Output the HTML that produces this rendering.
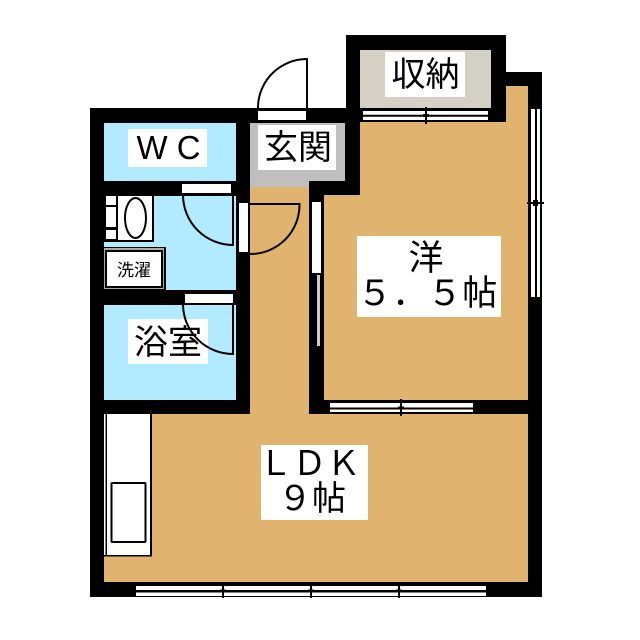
<!DOCTYPE html>
<html><head><meta charset="utf-8"><style>
html,body{margin:0;padding:0;background:#fff}
svg{display:block}
text{font-family:"Liberation Sans","Noto Sans CJK JP",sans-serif;fill:#000}
</style></head><body>
<svg width="640" height="640" viewBox="0 0 640 640" xmlns="http://www.w3.org/2000/svg">
<!-- black massing -->
<path d="M346 35H506V72H542V597H90V108H346Z" fill="#000"/>
<!-- rooms -->
<rect x="104" y="123" width="132" height="58" fill="#b2ebff"/>
<rect x="104" y="196" width="132" height="94" fill="#b2ebff"/>
<rect x="104" y="305" width="132" height="95" fill="#b2ebff"/>
<path d="M250 123H345V181H309V187H250Z" fill="#bfbfbf"/>
<rect x="360" y="50" width="131" height="58" fill="#d4d0c4"/>
<path d="M360 122H506V86H528V400H324V195H360Z" fill="#e0b46e"/>
<path d="M250 187H309V414H528V582H104V414H250Z" fill="#e0b46e"/>
<!-- entrance door -->
<rect x="258" y="111" width="48" height="9" fill="#fff"/>
<path d="M258 108V106A49 49 0 0 1 307 59V108" fill="#fff" stroke="#000" stroke-width="2"/>
<!-- storage window -->
<rect x="363" y="111" width="125" height="9" fill="#fff"/>
<path d="M363 115.700H488" stroke="#000" stroke-width="2"/>
<path d="M426 107V124" stroke="#000" stroke-width="2"/>
<path d="M423 115.500H429" stroke="#000" stroke-width="3"/>
<!-- right window -->
<rect x="531" y="109" width="9" height="188" fill="#fff"/>
<path d="M536 109V297" stroke="#000" stroke-width="2"/>
<path d="M527 203H544M534 200V206M537 200V206" stroke="#000" stroke-width="2"/>
<!-- WC door -->
<rect x="182" y="184" width="49" height="9" fill="#fff"/>
<path d="M183 195A50 50 0 0 0 233 245V195" fill="none" stroke="#000" stroke-width="2"/>
<!-- bath door -->
<rect x="185" y="294" width="48" height="9" fill="#fff"/>
<!-- corridor door -->
<rect x="239" y="203" width="9" height="49" fill="#fff"/>
<path d="M250 204H299.500A49 49 0 0 1 250 254" fill="none" stroke="#000" stroke-width="2"/>
<!-- room door/sliding -->
<rect x="312" y="202" width="9" height="71" fill="#fff"/>
<rect x="317" y="275" width="3" height="71" fill="#ccc"/>
<!-- room bottom window -->
<rect x="330" y="403" width="143" height="9" fill="#fff"/>
<path d="M330 408.500H473" stroke="#000" stroke-width="2"/>
<path d="M401 399V416" stroke="#000" stroke-width="2"/>
<path d="M398 408H404" stroke="#000" stroke-width="3"/>
<!-- LDK bottom window -->
<rect x="136" y="586" width="350" height="10" fill="#fff"/>
<path d="M136 591.300H486" stroke="#000" stroke-width="2.500"/>
<path d="M223 582V598M311 582V598M399 582V598" stroke="#000" stroke-width="2"/>
<path d="M220 591H226M308 591H314M396 591H402" stroke="#000" stroke-width="3"/>
<!-- basin -->
<rect x="104" y="196" width="50" height="46" fill="#000"/>
<rect x="106" y="196" width="10" height="9" fill="#fff"/>
<rect x="106" y="207" width="10" height="20" fill="#fff"/>
<rect x="106" y="230" width="10" height="9" fill="#fff"/>
<rect x="118" y="196" width="34" height="44" fill="#fff"/>
<ellipse cx="135.500" cy="218" rx="10.500" ry="20" fill="none" stroke="#000" stroke-width="2"/>
<!-- washer -->
<rect x="103" y="247" width="63" height="43" fill="#000"/>
<rect x="104" y="248" width="60" height="41" fill="#aaa"/>
<rect x="105" y="250" width="58" height="38" fill="#000"/>
<rect x="107" y="252" width="54" height="34" fill="#fff"/>
<!-- kitchen -->
<rect x="104" y="414" width="48" height="142.500" fill="#000"/>
<rect x="104" y="414" width="1.500" height="141" fill="#fff"/>
<rect x="107" y="414" width="43" height="141" fill="#fff"/>
<rect x="111.500" y="483" width="34" height="59" rx="1" fill="#fff" stroke="#000" stroke-width="2"/>
<!-- label backgrounds -->
<rect x="128" y="129" width="79" height="38" fill="#fff"/>
<rect x="258" y="125" width="78" height="45" fill="#fff"/>
<rect x="385" y="52" width="80" height="45" fill="#fff"/>
<rect x="128" y="319" width="80" height="45" fill="#fff"/>
<rect x="357" y="236" width="144" height="81" fill="#fff"/>
<rect x="261" y="445" width="107" height="75" fill="#fff"/>
<!-- bath door over label -->
<path d="M183 305A50 50 0 0 0 233 354V305" fill="none" stroke="#000" stroke-width="2"/>
<!-- text -->
<text x="168.500" y="159" font-size="33" text-anchor="middle" textLength="64" lengthAdjust="spacingAndGlyphs">W C</text>
<text x="298" y="159" font-size="34" text-anchor="middle">玄関</text>
<text x="425.500" y="86" font-size="34" text-anchor="middle">収納</text>
<text x="168" y="354" font-size="34" text-anchor="middle">浴室</text>
<text x="134" y="276" font-size="17" text-anchor="middle">洗濯</text>
<text x="426" y="270" font-size="35" text-anchor="middle">洋</text>
<text x="427.300" y="305" font-size="35" text-anchor="middle">５．５帖</text>
<text x="309.500" y="475" font-size="34" text-anchor="middle">ＬＤＫ</text>
<text x="312" y="510" font-size="34" text-anchor="middle">９帖</text>
</svg>
</body></html>
